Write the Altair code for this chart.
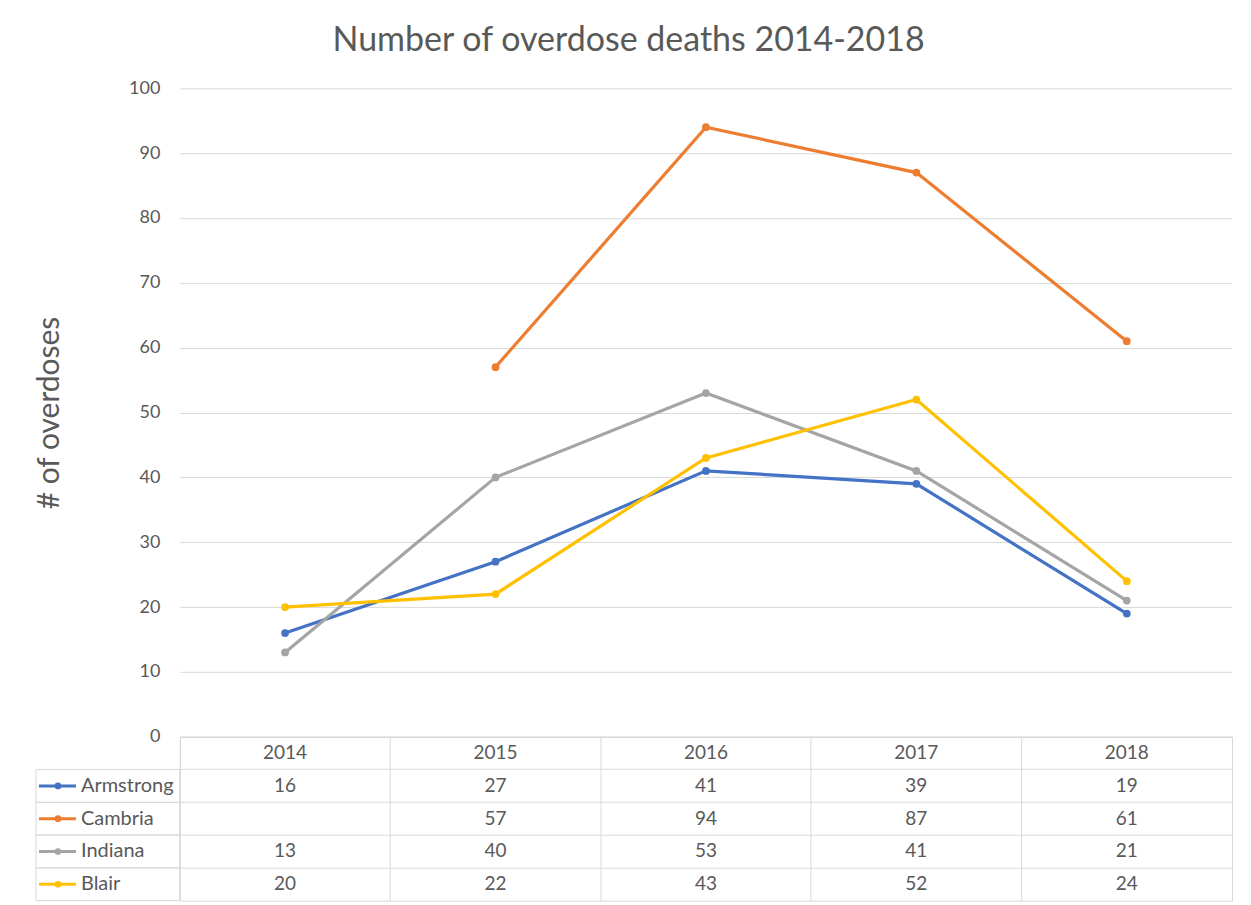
import altair as alt
import pandas as pd

years = ["2014", "2015", "2016", "2017", "2018"]
series = ["Armstrong", "Cambria", "Indiana", "Blair"]
armstrong = [16, 27, 41, 39, 19]
cambria = [None, 57, 94, 87, 61]
indiana = [13, 40, 53, 41, 21]
blair = [20, 22, 43, 52, 24]
colors = ["#4472C4", "#ED7D31", "#A5A5A5", "#FFC000"]

values = {"Armstrong": armstrong, "Cambria": cambria, "Indiana": indiana, "Blair": blair}

FONT = "Lato"
TXT = "#595959"
GRID = "#d9d9d9"

rows = []
for s in series:
    for y, v in zip(years, values[s]):
        if v is not None:
            rows.append({"series": s, "year": y, "value": v})
df = pd.DataFrame(rows)

color = alt.Color("series:N", scale=alt.Scale(domain=series, range=colors), legend=None)

x_top = alt.X("year:O", scale=alt.Scale(type="point", domain=years, padding=0.5), axis=None)
y_top = alt.Y(
    "value:Q",
    scale=alt.Scale(domain=[0, 100]),
    axis=alt.Axis(
        values=list(range(0, 101, 10)), title="# of overdoses", domain=False, ticks=False,
        labelFont=FONT, labelFontSize=18, labelColor=TXT, labelPadding=20,
        gridColor=GRID, titleFont=FONT, titleFontSize=30, titleFontWeight="normal",
        titleColor=TXT, titlePadding=64,
    ),
)

lines = alt.Chart(df).mark_line(strokeWidth=3.2).encode(
    x=x_top, y=y_top, color=color, detail="series:N"
)
pts = alt.Chart(df).mark_point(filled=True, size=60, opacity=1).encode(
    x=x_top, y=y_top, color=color
)
top = alt.layer(lines, pts).properties(
    width=1053, height=649, view=alt.ViewBackground(stroke="transparent", strokeWidth=0)
)

# table
row_names = ["yr"] + series
tab_rows = []
for y in years:
    tab_rows.append({"row": "yr", "year": y, "label": y})
for s in series:
    for y, v in zip(years, values[s]):
        if v is not None:
            tab_rows.append({"row": s, "year": y, "label": str(v)})
tdf = pd.DataFrame(tab_rows)
ndf = pd.DataFrame({"row": series, "series": series})

x_tab = alt.X(
    "year:N", bandPosition=0.5,
    scale=alt.Scale(type="band", domain=years, paddingInner=0, paddingOuter=0),
    axis=alt.Axis(grid=True, bandPosition=0, labels=False, ticks=False, domain=False,
                  title=None, gridColor=GRID),
)
y_tab = alt.Y(
    "row:N", bandPosition=0.5,
    scale=alt.Scale(type="band", domain=row_names, paddingInner=0, paddingOuter=0),
    axis=alt.Axis(grid=True, bandPosition=0, labels=False, ticks=False, domain=False,
                  title=None, gridColor=GRID),
)
y_band = alt.Y("row:N", scale=alt.Scale(type="band", domain=row_names, paddingInner=0, paddingOuter=0))

cells = alt.Chart(tdf).mark_text(font=FONT, fontSize=19, color=TXT).encode(
    x=x_tab, y=y_tab, text="label:N"
)
left_cells = alt.Chart(ndf).mark_rect(fillOpacity=0, stroke=GRID, strokeWidth=1).encode(
    x=alt.value(-144), x2=alt.value(0), y=y_band
)
names = alt.Chart(ndf).mark_text(font=FONT, fontSize=20, color=TXT, align="left").encode(
    x=alt.value(-99), y=alt.Y("row:N", bandPosition=0.5), text="series:N"
)
sym_line = alt.Chart(ndf).mark_rule(strokeWidth=3).encode(
    x=alt.value(-141), x2=alt.value(-104), y=alt.Y("row:N", bandPosition=0.5), color=color
)
sym_pt = alt.Chart(ndf).mark_point(filled=True, size=45, opacity=1).encode(
    x=alt.value(-122), y=alt.Y("row:N", bandPosition=0.5), color=color
)
table = alt.layer(left_cells, cells, names, sym_line, sym_pt).properties(
    width=1053, height=164, view=alt.ViewBackground(stroke=GRID, strokeWidth=1)
)

chart = alt.vconcat(top, table, spacing=0, bounds="flush").resolve_scale(
    x="independent", y="independent"
).properties(
    title=alt.Title("Number of overdose deaths 2014-2018", font=FONT, fontSize=34,
                    fontWeight="normal", color=TXT, anchor="middle", offset=21, dx=-5),
    padding={"left": 34, "top": 24, "right": 18, "bottom": 2},
).configure_view(strokeWidth=0).configure(background="white")

chart.save("out.html", embed_options={"renderer": "svg", "actions": False})
